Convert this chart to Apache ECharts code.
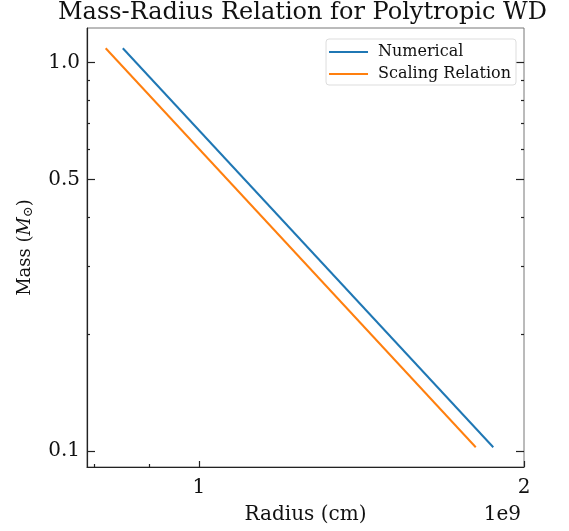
<!DOCTYPE html>
<html>
<head>
<meta charset="utf-8">
<script src="https://cdn.jsdelivr.net/npm/echarts@6/dist/echarts.min.js"></script>
<style>
  html, body { margin: 0; padding: 0; background: #fff; }
  #main { width: 569px; height: 531px; }
</style>
</head>
<body>
<div id="main"></div>
<script>
// 数据 (cm, M_sun)
const numericalRadius = [0.8505e9, 1.8732e9];
const numericalMass = [1.089, 0.1024];
const scalingRadius = [0.820e9, 1.8046e9];
const scalingMass = [1.089, 0.1024];

const xTicks = [1e9, 2e9];
const xMinorTicks = [0.8e9, 0.9e9];
const yTicks = [0.1, 0.5, 1.0];
const yMinorTicks = [0.2, 0.3, 0.4, 0.6, 0.7, 0.8, 0.9];

const FONT = 'DejaVu Serif';
const chart = echarts.init(document.getElementById('main'));

function pairs(xs, ys) {
  return xs.map((x, i) => [x, ys[i]]);
}

const xRange = { min: 0.788e9, max: 2e9 };
const yRange = { min: 0.0911, max: 1.228 };

// 辅助轴：只画刻度
function tickAxis(base, values, len, showLabel, extra) {
  return Object.assign({
    type: 'log',
    logBase: 10,
    min: base.min,
    max: base.max,
    axisLine: { show: false },
    splitLine: { show: false },
    minorTick: { show: false },
    axisTick: { show: true, inside: true, length: len, customValues: values, lineStyle: { color: '#222', width: 1.2 } },
    axisLabel: { show: showLabel, customValues: values }
  }, extra);
}

var option = {
  animation: false,
  backgroundColor: '#fff',
  title: {
    text: 'Mass-Radius Relation for Polytropic WD',
    left: 58,
    top: 1,
    padding: 0,
    textStyle: { fontFamily: FONT, fontSize: 24, fontWeight: 'normal', color: '#111' }
  },
  grid: { left: 87, right: 45, top: 28, bottom: 64, show: true, borderColor: '#777', borderWidth: 1 },
  legend: {
    right: 53,
    top: 39,
    orient: 'vertical',
    icon: 'rect',
    itemWidth: 39,
    itemHeight: 2,
    itemGap: 6,
    padding: [5, 5, 3, 3],
    borderColor: '#ddd',
    borderWidth: 1,
    borderRadius: 3,
    textStyle: { fontFamily: FONT, fontSize: 16, color: '#111', padding: [0, 0, 0, 5] },
    data: ['Numerical', 'Scaling Relation']
  },
  xAxis: [
    tickAxis(xRange, xTicks, 6, true, {
      position: 'bottom',
      axisLine: { show: true, lineStyle: { color: '#222', width: 1.2 } },
      axisLabel: {
        show: true, customValues: xTicks, margin: 11,
        fontFamily: FONT, fontSize: 20, color: '#111',
        formatter: v => String(Math.round(v / 1e9))
      },
      name: 'Radius (cm)',
      nameLocation: 'middle',
      nameGap: 38,
      nameTextStyle: { fontFamily: FONT, fontSize: 20, color: '#111' }
    }),
    tickAxis(xRange, xMinorTicks, 3, false, { position: 'bottom' })
  ],
  yAxis: [
    tickAxis(yRange, yTicks, 8, true, {
      position: 'left',
      axisLine: { show: true, lineStyle: { color: '#222', width: 1.2 } },
      axisLabel: {
        show: true, customValues: yTicks, margin: 7,
        fontFamily: FONT, fontSize: 20, color: '#111',
        formatter: v => v.toFixed(1)
      },
      name: 'Mass ({i|M}{s|⊙})',
      nameLocation: 'middle',
      nameGap: 52,
      nameTextStyle: {
        fontFamily: FONT, fontSize: 18, color: '#111',
        rich: {
          i: { fontFamily: FONT, fontSize: 18, fontStyle: 'italic', color: '#111' },
          s: { fontFamily: FONT, fontSize: 13, color: '#111', verticalAlign: 'bottom', padding: [7, 0, 0, 0] }
        }
      }
    }),
    tickAxis(yRange, yMinorTicks, 3, false, { position: 'left' }),
    tickAxis(yRange, yTicks, 8, false, { position: 'right' }),
    tickAxis(yRange, yMinorTicks, 3, false, { position: 'right' })
  ],
  graphic: [{
    type: 'text',
    right: 48,
    top: 505,
    style: { text: '1e9', fontFamily: FONT, fontSize: 20, fill: '#111' }
  }],
  series: [
    {
      name: 'Numerical',
      type: 'line',
      showSymbol: false,
      symbol: 'none',
      data: pairs(numericalRadius, numericalMass),
      lineStyle: { color: '#1f77b4', width: 2 },
      itemStyle: { color: '#1f77b4' }
    },
    {
      name: 'Scaling Relation',
      type: 'line',
      showSymbol: false,
      symbol: 'none',
      data: pairs(scalingRadius, scalingMass),
      lineStyle: { color: '#ff7f0e', width: 2 },
      itemStyle: { color: '#ff7f0e' }
    }
  ]
};

chart.setOption(option);
</script>
</body>
</html>
